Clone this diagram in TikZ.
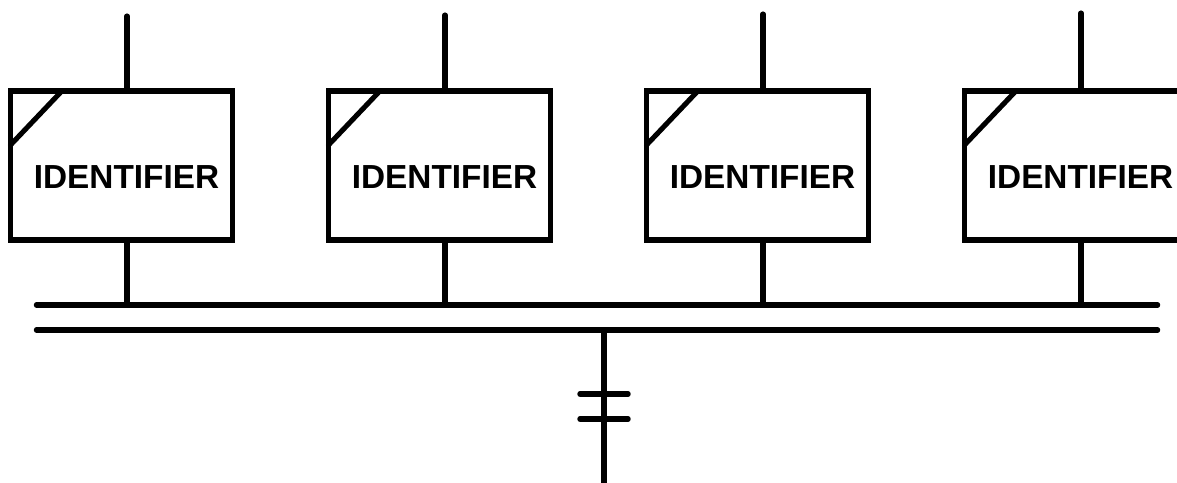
\documentclass[tikz,border=0pt]{standalone}
\usepackage{fontspec}
\setmainfont{Liberation Sans}
\usepackage{tikz}
\usetikzlibrary{positioning}

\tikzset{
  idbox/.style={draw, rectangle, line width=4pt, outer sep=0pt, inner sep=0pt,
    minimum width=166.5pt, minimum height=111.75pt},
  idlabel/.style={inner sep=0pt, font=\fontsize{25}{25}\selectfont\bfseries},
  wire/.style={line width=3.8pt, line cap=round},
  bus/.style={line width=4.1pt, line cap=round},
}

\begin{document}
\begin{tikzpicture}[x=0.75pt, y=-0.75pt]
    \path[use as bounding box, clip] (0,0) rectangle (1177,482);

    % the four boxes
    \node[idbox] (box1) at (121.5,165.5) {};
    \node[idbox] (box2) at (439.5,165.5) {};
    \node[idbox] (box3) at (757.5,165.5) {};
    \node[idbox] (box4) at (1075.5,165.5) {};
    \node[idlabel] (id1) at (126.5,177) {IDENTIFIER};
    \node[idlabel] (id2) at (444.5,177) {IDENTIFIER};
    \node[idlabel] (id3) at (762.5,177) {IDENTIFIER};
    \node[idlabel] (id4) at (1080.5,177) {IDENTIFIER};

    % corner cuts
    \draw[wire] ([xshift=38.5pt]box1.north west) -- ([yshift=-40.5pt]box1.north west);
    \draw[wire] ([xshift=38.5pt]box2.north west) -- ([yshift=-40.5pt]box2.north west);
    \draw[wire] ([xshift=38.5pt]box3.north west) -- ([yshift=-40.5pt]box3.north west);
    \draw[wire] ([xshift=38.5pt]box4.north west) -- ([yshift=-40.5pt]box4.north west);

    % the two bus lines
    \coordinate (busa) at (36.5,305);
    \coordinate (busb) at (1157.5,305);
    \coordinate (busc) at (36.5,330);
    \coordinate (busd) at (1157.5,330);
    \draw[bus] (busa) -- (busb);
    \draw[bus] (busc) -- (busd);

    % stems above and below each box
    \coordinate (top1) at (127,16);
    \coordinate (top2) at (445,15);
    \coordinate (top3) at (763,14);
    \coordinate (top4) at (1081,13);
    \draw[wire] (top1) -- (top1 |- box1.north);
    \draw[wire] (top2) -- (top2 |- box2.north);
    \draw[wire] (top3) -- (top3 |- box3.north);
    \draw[wire] (top4) -- (top4 |- box4.north);
    \draw[wire] (top1 |- box1.south) -- (top1 |- busa);
    \draw[wire] (top2 |- box2.south) -- (top2 |- busa);
    \draw[wire] (top3 |- box3.south) -- (top3 |- busa);
    \draw[wire] (top4 |- box4.south) -- (top4 |- busa);

    % tap going down, with its two ticks
    \coordinate (tap) at (604,330);
    \coordinate (tapend) at (604,490);
    \coordinate (ticka) at (604,394);
    \coordinate (tickb) at (604,419);
    \draw[wire] (tap) -- (tapend);
    \draw[bus] ([xshift=-18pt]ticka) -- ([xshift=18pt]ticka);
    \draw[bus] ([xshift=-18pt]tickb) -- ([xshift=18pt]tickb);
\end{tikzpicture}
\end{document}
